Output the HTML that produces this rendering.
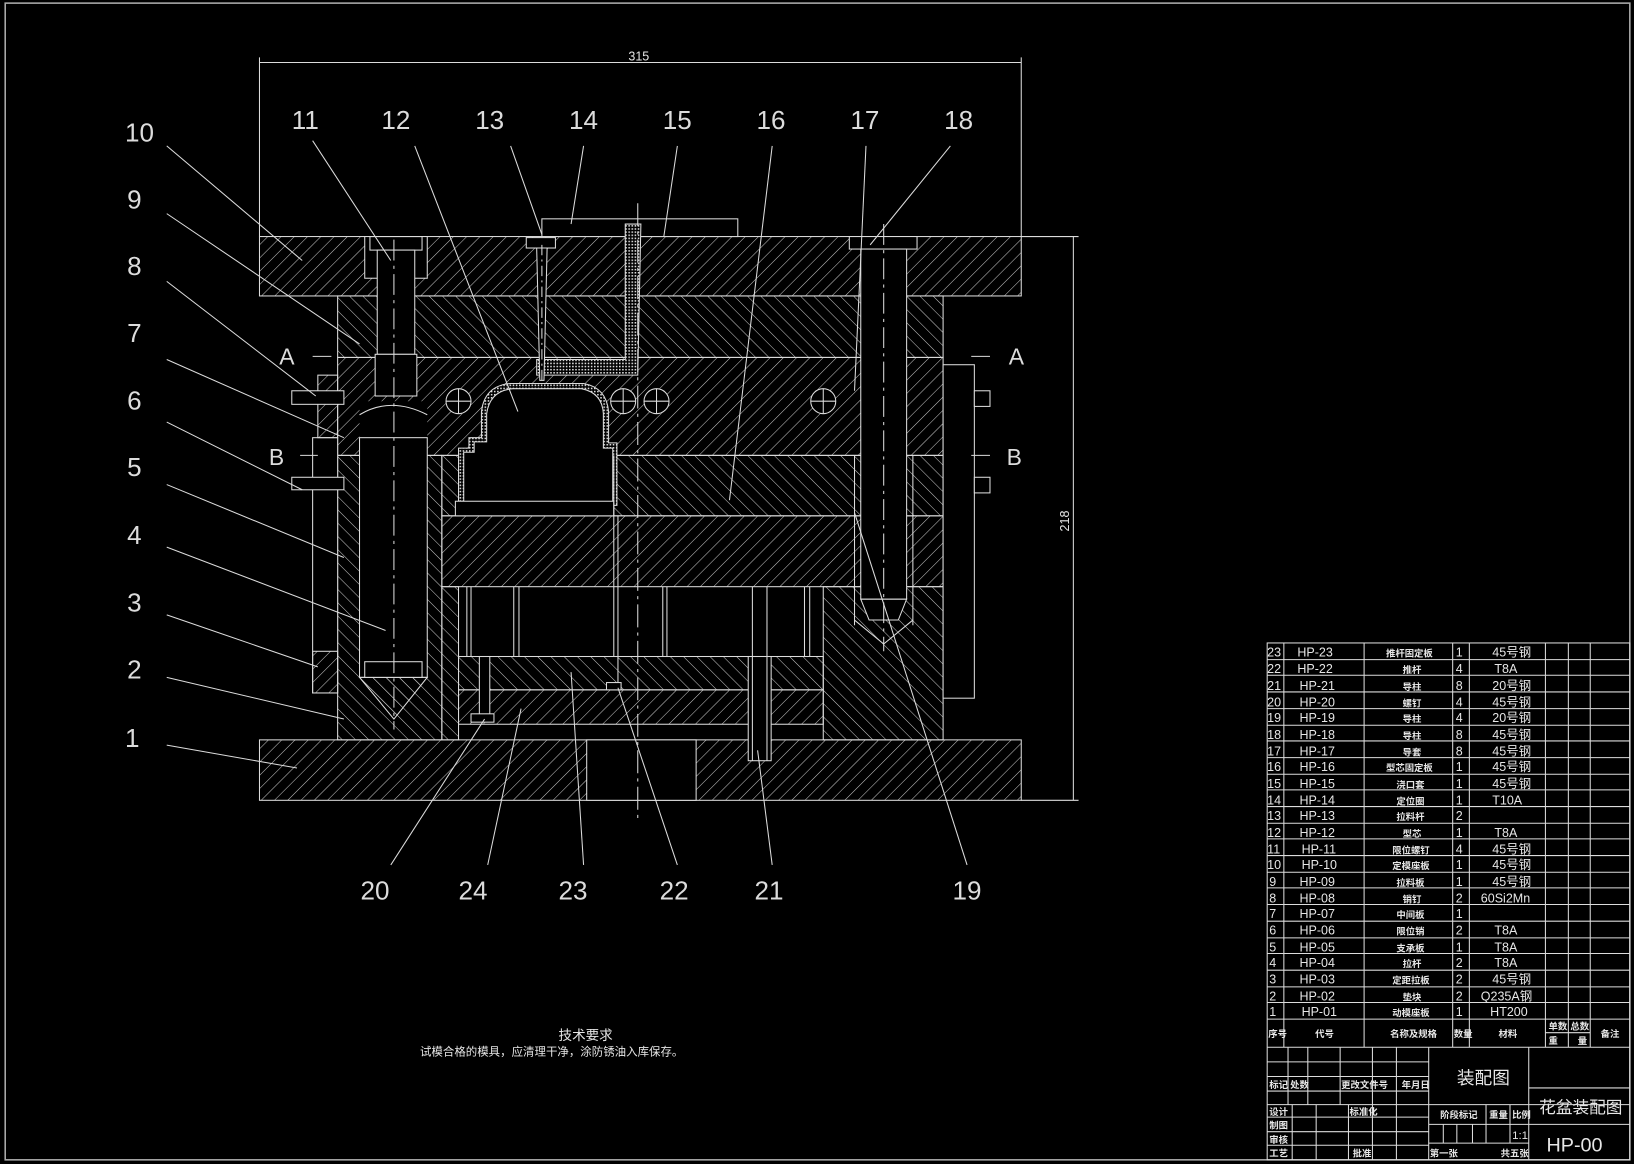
<!DOCTYPE html>
<html><head><meta charset="utf-8">
<style>
html,body{margin:0;padding:0;background:#000;}
svg{display:block;}
text{font-family:"Liberation Sans","Noto Sans CJK SC",sans-serif;fill:#e6e6e6;}
.n{font-size:25px;font-weight:normal;fill:#dcdcdc;}
.c{font-size:9px;font-weight:bold;}
.m{font-size:12px;}
</style></head><body>
<svg width="1634" height="1164" viewBox="0 0 1568 1117" preserveAspectRatio="none" xmlns="http://www.w3.org/2000/svg">
<defs>
<pattern id="h1" width="9" height="9" patternUnits="userSpaceOnUse" patternTransform="rotate(45)"><line x1="0" y1="0" x2="0" y2="9" stroke="#c8c8c8" stroke-width="1"/></pattern>
<pattern id="h2" width="9" height="9" patternUnits="userSpaceOnUse" patternTransform="rotate(-45)"><line x1="0" y1="0" x2="0" y2="9" stroke="#c8c8c8" stroke-width="1"/></pattern>
<pattern id="px" width="3" height="3" patternUnits="userSpaceOnUse"><rect width="3" height="3" fill="#000"/><rect width="1.5" height="1.5" fill="#ddd"/></pattern>
</defs>
<rect width="1568" height="1117" fill="#000"/>
<rect x="5" y="3" width="1559" height="1110" fill="none" stroke="#aaa" stroke-width="1.5"/>

<g stroke="#dcdcdc" stroke-width="1" fill="none">
<line x1="249" y1="60" x2="980" y2="60"/>
<line x1="249" y1="55" x2="249" y2="227"/>
<line x1="980" y1="55" x2="980" y2="227"/>
<line x1="1030" y1="227" x2="1030" y2="768"/>
<line x1="980" y1="227" x2="1035" y2="227"/>
<line x1="980" y1="768" x2="1035" y2="768"/>

<rect x="249" y="227" width="731" height="57" fill="url(#h1)"/>
<rect x="520" y="210" width="188" height="17" fill="#000"/>
<rect x="324" y="284" width="581" height="59" fill="url(#h2)"/>
<rect x="324" y="343" width="581" height="94" fill="url(#h1)"/>
<rect x="424" y="437" width="481" height="58" fill="url(#h2)"/>
<rect x="424" y="495" width="481" height="68" fill="url(#h1)"/>
<rect x="324" y="437" width="100" height="273" fill="url(#h2)"/>
<rect x="424" y="563" width="16" height="147" fill="url(#h2)"/>
<rect x="790" y="563" width="115" height="147" fill="url(#h2)"/>
<rect x="440" y="630" width="350" height="32" fill="url(#h2)"/>
<rect x="440" y="662" width="350" height="33" fill="url(#h1)"/>
<rect x="249" y="710" width="731" height="58" fill="url(#h1)"/>
<rect x="563" y="710" width="105" height="58" fill="#000"/>
<rect x="718" y="630" width="22" height="100" fill="#000"/>
<line x1="722" y1="563" x2="722" y2="730"/><line x1="736" y1="563" x2="736" y2="730"/>

<rect x="300" y="420" width="24" height="245" fill="#000"/>
<rect x="300" y="625" width="24" height="40" fill="url(#h1)"/>
<rect x="305" y="360" width="19" height="60" fill="url(#h1)"/>
<rect x="280" y="375" width="50" height="13" fill="#000"/>
<rect x="280" y="458" width="50" height="12" fill="#000"/>
<rect x="905" y="350" width="30" height="320" fill="#000"/>
<rect x="935" y="375" width="15" height="15" fill="#000"/>
<rect x="935" y="458" width="15" height="15" fill="#000"/>

<rect x="350" y="227" width="60" height="40" fill="#000"/>
<rect x="355" y="227" width="50" height="13"/>
<rect x="362" y="240" width="36" height="100" fill="#000"/>
<rect x="360" y="340" width="40" height="40" fill="#000"/>
<polygon points="345,385 410,385 410,420 345,420" fill="#000" stroke="none"/>
<path d="M345 398 Q375 380 410 398"/>
<rect x="345" y="420" width="65" height="230" fill="#000"/>
<polygon points="345,650 410,650 378,690" fill="url(#h2)"/>
<rect x="350" y="635" width="55" height="15" fill="#000"/>
<line x1="378" y1="230" x2="378" y2="700" stroke-dasharray="20,5,3,5"/>

<rect x="815" y="227" width="65" height="12" fill="#000"/>
<rect x="826" y="239" width="44" height="336" fill="#000"/>
<polygon points="826,575 870,575 862,595 834,595" fill="#000"/>
<polyline points="820,595 848,618 876,595"/>
<line x1="820" y1="437" x2="820" y2="600"/><line x1="876" y1="437" x2="876" y2="600"/>
<line x1="848" y1="215" x2="848" y2="625" stroke-dasharray="20,5,3,5"/>

<path d="M600 215 L615 215 L612 360 L515 360 L515 345 L600 345 Z" fill="url(#px)"/>
<rect x="505" y="228" width="28" height="10" fill="#000"/>
<polygon points="515,238 525,238 522,365 518,365" fill="#000"/>
<line x1="520" y1="235" x2="520" y2="390" stroke-dasharray="10,4,2,4"/>

<path d="M440 485 L440 430 L450 430 L450 420 L462 420 L462 395 Q465 370 490 368 L560 368 Q582 372 584 395 L584 425 L592 425 L592 485 Z" fill="url(#px)"/>
<path d="M445 485 L445 434 L455 434 L455 424 L467 424 L467 397 Q470 375 492 373 L558 373 Q578 377 579 397 L579 430 L588 430 L588 485 Z" fill="#000"/>
<rect x="437" y="481" width="152" height="14" fill="#000"/>
<line x1="589" y1="437" x2="589" y2="630"/>

<circle cx="440" cy="385" r="12" fill="#000"/><line x1="428" y1="385" x2="452" y2="385"/><line x1="440" y1="373" x2="440" y2="397"/>
<circle cx="598" cy="385" r="12" fill="#000"/><line x1="586" y1="385" x2="610" y2="385"/><line x1="598" y1="373" x2="598" y2="397"/>
<circle cx="630" cy="385" r="12" fill="#000"/><line x1="618" y1="385" x2="642" y2="385"/><line x1="630" y1="373" x2="630" y2="397"/>
<circle cx="790" cy="385" r="12" fill="#000"/><line x1="778" y1="385" x2="802" y2="385"/><line x1="790" y1="373" x2="790" y2="397"/>

<line x1="448" y1="563" x2="448" y2="630"/><line x1="452" y1="563" x2="452" y2="630"/>
<line x1="493" y1="563" x2="493" y2="630"/><line x1="498" y1="563" x2="498" y2="630"/>
<line x1="636" y1="563" x2="636" y2="630"/><line x1="640" y1="563" x2="640" y2="630"/>
<line x1="772" y1="563" x2="772" y2="630"/><line x1="777" y1="563" x2="777" y2="630"/>
<rect x="460" y="630" width="10" height="60" fill="#000"/>
<rect x="452" y="685" width="22" height="8" fill="#000"/>
<rect x="582" y="655" width="14" height="7" fill="#000"/>
<line x1="612" y1="195" x2="612" y2="790" stroke-dasharray="22,5,3,5"/>
<line x1="593" y1="495" x2="593" y2="655"/>

<line x1="300" y1="342" x2="318" y2="342"/><line x1="932" y1="342" x2="950" y2="342"/>
<line x1="288" y1="437" x2="305" y2="437"/><line x1="932" y1="437" x2="950" y2="437"/>

<line x1="160" y1="140" x2="290" y2="250"/>
<line x1="160" y1="205" x2="345" y2="330"/>
<line x1="160" y1="270" x2="303" y2="380"/>
<line x1="160" y1="345" x2="330" y2="420"/>
<line x1="160" y1="405" x2="290" y2="470"/>
<line x1="160" y1="465" x2="330" y2="535"/>
<line x1="160" y1="525" x2="370" y2="605"/>
<line x1="160" y1="590" x2="305" y2="640"/>
<line x1="160" y1="650" x2="330" y2="690"/>
<line x1="160" y1="715" x2="285" y2="737"/>
<line x1="300" y1="135" x2="375" y2="250"/>
<line x1="398" y1="140" x2="497" y2="395"/>
<line x1="490" y1="140" x2="520" y2="225"/>
<line x1="560" y1="140" x2="548" y2="215"/>
<line x1="650" y1="140" x2="637" y2="227"/>
<line x1="741" y1="140" x2="700" y2="480"/>
<line x1="831" y1="140" x2="820" y2="375"/>
<line x1="912" y1="140" x2="835" y2="235"/>
<line x1="375" y1="830" x2="465" y2="690"/>
<line x1="468" y1="830" x2="500" y2="680"/>
<line x1="560" y1="830" x2="548" y2="645"/>
<line x1="650" y1="830" x2="593" y2="660"/>
<line x1="741" y1="830" x2="727" y2="720"/>
<line x1="928" y1="830" x2="820" y2="492"/>
</g>

<text x="603" y="58" style="font-size:12px">315</text>
<text transform="translate(1026,510) rotate(-90)" style="font-size:12px">218</text>
<text x="268" y="350" class="n" style="font-size:22px">A</text>
<text x="968" y="350" class="n" style="font-size:22px">A</text>
<text x="258" y="446" class="n" style="font-size:22px">B</text>
<text x="966" y="446" class="n" style="font-size:22px">B</text>

<text x="120" y="136" class="n">10</text><text x="122" y="200" class="n">9</text><text x="122" y="264" class="n">8</text>
<text x="122" y="328" class="n">7</text><text x="122" y="393" class="n">6</text><text x="122" y="457" class="n">5</text>
<text x="122" y="522" class="n">4</text><text x="122" y="587" class="n">3</text><text x="122" y="651" class="n">2</text>
<text x="120" y="717" class="n">1</text>
<text x="280" y="124" class="n">11</text><text x="366" y="124" class="n">12</text><text x="456" y="124" class="n">13</text>
<text x="546" y="124" class="n">14</text><text x="636" y="124" class="n">15</text><text x="726" y="124" class="n">16</text>
<text x="816" y="124" class="n">17</text><text x="906" y="124" class="n">18</text>
<text x="346" y="863" class="n">20</text><text x="440" y="863" class="n">24</text><text x="536" y="863" class="n">23</text>
<text x="633" y="863" class="n">22</text><text x="724" y="863" class="n">21</text><text x="914" y="863" class="n">19</text>

<text x="536" y="998" style="font-size:13px">技术要求</text>
<text x="403" y="1013" style="font-size:11px">试模合格的模具，应清理干净，涂防锈油入库保存。</text>

<g stroke="#dcdcdc" stroke-width="1" fill="none">
<rect x="1216" y="617" width="348" height="496"/>
<line x1="1232" y1="617" x2="1232" y2="1005"/><line x1="1309" y1="617" x2="1309" y2="1005"/>
<line x1="1394" y1="617" x2="1394" y2="1005"/><line x1="1410" y1="617" x2="1410" y2="1005"/>
<line x1="1483" y1="617" x2="1483" y2="1005"/><line x1="1505" y1="617" x2="1505" y2="1005"/>
<line x1="1526" y1="617" x2="1526" y2="1005"/>
<path d="M1216 633H1564M1216 648H1564M1216 664H1564M1216 680H1564M1216 696H1564M1216 711H1564M1216 727H1564M1216 743H1564M1216 758H1564M1216 774H1564M1216 790H1564M1216 805H1564M1216 821H1564M1216 837H1564M1216 852H1564M1216 868H1564M1216 884H1564M1216 900H1564M1216 915H1564M1216 931H1564M1216 947H1564M1216 962H1564M1216 978H1564M1216 1005H1564M1483 991H1526"/>
<path d="M1216 1019H1371M1216 1033H1371M1216 1047H1371M1216 1060H1564M1216 1072H1371M1216 1086H1371M1216 1099H1371M1371 1079H1467M1371 1097H1467M1467 1044H1564M1467 1079H1564"/>
<path d="M1236 1005V1060M1255 1005V1060M1286 1005V1060M1317 1005V1113M1340 1005V1113M1371 1005V1113M1467 1005V1113M1240 1060V1113M1263 1060V1113M1294 1060V1113M1385 1079V1097M1398 1079V1097M1413 1079V1097M1426 1060V1097M1449 1060V1097"/>
</g>
<g class="m">
<text x="1216" y="630">23</text><text x="1245" y="630">HP-23</text><text x="1330" y="630" class="c">推杆固定板</text><text x="1397" y="630">1</text><text x="1432" y="630">45号钢</text>
<text x="1216" y="646">22</text><text x="1245" y="646">HP-22</text><text x="1346" y="646" class="c">推杆</text><text x="1397" y="646">4</text><text x="1434" y="646">T8A</text>
<text x="1216" y="662">21</text><text x="1247" y="662">HP-21</text><text x="1346" y="662" class="c">导柱</text><text x="1397" y="662">8</text><text x="1432" y="662">20号钢</text>
<text x="1216" y="678">20</text><text x="1247" y="678">HP-20</text><text x="1346" y="678" class="c">螺钉</text><text x="1397" y="678">4</text><text x="1432" y="678">45号钢</text>
<text x="1216" y="693">19</text><text x="1247" y="693">HP-19</text><text x="1346" y="693" class="c">导柱</text><text x="1397" y="693">4</text><text x="1432" y="693">20号钢</text>
<text x="1216" y="709">18</text><text x="1247" y="709">HP-18</text><text x="1346" y="709" class="c">导柱</text><text x="1397" y="709">8</text><text x="1432" y="709">45号钢</text>
<text x="1216" y="725">17</text><text x="1247" y="725">HP-17</text><text x="1346" y="725" class="c">导套</text><text x="1397" y="725">8</text><text x="1432" y="725">45号钢</text>
<text x="1216" y="740">16</text><text x="1247" y="740">HP-16</text><text x="1330" y="740" class="c">型芯固定板</text><text x="1397" y="740">1</text><text x="1432" y="740">45号钢</text>
<text x="1216" y="756">15</text><text x="1247" y="756">HP-15</text><text x="1340" y="756" class="c">浇口套</text><text x="1397" y="756">1</text><text x="1432" y="756">45号钢</text>
<text x="1216" y="772">14</text><text x="1247" y="772">HP-14</text><text x="1340" y="772" class="c">定位圈</text><text x="1397" y="772">1</text><text x="1432" y="772">T10A</text>
<text x="1216" y="787">13</text><text x="1247" y="787">HP-13</text><text x="1340" y="787" class="c">拉料杆</text><text x="1397" y="787">2</text>
<text x="1216" y="803">12</text><text x="1247" y="803">HP-12</text><text x="1346" y="803" class="c">型芯</text><text x="1397" y="803">1</text><text x="1434" y="803">T8A</text>
<text x="1216" y="819">11</text><text x="1249" y="819">HP-11</text><text x="1336" y="819" class="c">限位螺钉</text><text x="1397" y="819">4</text><text x="1432" y="819">45号钢</text>
<text x="1216" y="834">10</text><text x="1249" y="834">HP-10</text><text x="1336" y="834" class="c">定模座板</text><text x="1397" y="834">1</text><text x="1432" y="834">45号钢</text>
<text x="1218" y="850">9</text><text x="1247" y="850">HP-09</text><text x="1340" y="850" class="c">拉料板</text><text x="1397" y="850">1</text><text x="1432" y="850">45号钢</text>
<text x="1218" y="866">8</text><text x="1247" y="866">HP-08</text><text x="1346" y="866" class="c">销钉</text><text x="1397" y="866">2</text><text x="1421" y="866">60Si2Mn</text>
<text x="1218" y="881">7</text><text x="1247" y="881">HP-07</text><text x="1340" y="881" class="c">中间板</text><text x="1397" y="881">1</text>
<text x="1218" y="897">6</text><text x="1247" y="897">HP-06</text><text x="1340" y="897" class="c">限位销</text><text x="1397" y="897">2</text><text x="1434" y="897">T8A</text>
<text x="1218" y="913">5</text><text x="1247" y="913">HP-05</text><text x="1340" y="913" class="c">支承板</text><text x="1397" y="913">1</text><text x="1434" y="913">T8A</text>
<text x="1218" y="928">4</text><text x="1247" y="928">HP-04</text><text x="1346" y="928" class="c">拉杆</text><text x="1397" y="928">2</text><text x="1434" y="928">T8A</text>
<text x="1218" y="944">3</text><text x="1247" y="944">HP-03</text><text x="1336" y="944" class="c">定距拉板</text><text x="1397" y="944">2</text><text x="1432" y="944">45号钢</text>
<text x="1218" y="960">2</text><text x="1247" y="960">HP-02</text><text x="1346" y="960" class="c">垫块</text><text x="1397" y="960">2</text><text x="1421" y="960">Q235A钢</text>
<text x="1218" y="975">1</text><text x="1249" y="975">HP-01</text><text x="1336" y="975" class="c">动模座板</text><text x="1397" y="975">1</text><text x="1430" y="975">HT200</text>
</g>
<g class="c">
<text x="1217" y="995">序号</text><text x="1262" y="995">代号</text><text x="1334" y="995">名称及规格</text>
<text x="1395" y="995">数量</text><text x="1438" y="995">材料</text>
<text x="1486" y="988">单数</text><text x="1507" y="988">总数</text><text x="1486" y="1002">重</text><text x="1514" y="1002">量</text>
<text x="1536" y="995">备注</text>
<text x="1218" y="1044">标记</text><text x="1238" y="1044">处数</text><text x="1287" y="1044">更改文件号</text><text x="1345" y="1044">年月日</text>
<text x="1218" y="1070">设计</text><text x="1218" y="1083">制图</text><text x="1218" y="1097">审核</text><text x="1218" y="1110">工艺</text>
<text x="1295" y="1070">标准化</text><text x="1298" y="1110">批准</text>
<text x="1382" y="1073">阶段标记</text><text x="1429" y="1073">重量</text><text x="1451" y="1073">比例</text>
<text x="1372" y="1110">第一张</text><text x="1440" y="1110">共五张</text>
</g>
<text x="1451" y="1093" style="font-size:11px">1:1</text>
<text x="1398" y="1040" style="font-size:17px">装配图</text>
<text x="1477" y="1068" style="font-size:16px">花盆装配图</text>
<text x="1484" y="1105" style="font-size:19px">HP-00</text>
</svg>
</body></html>
